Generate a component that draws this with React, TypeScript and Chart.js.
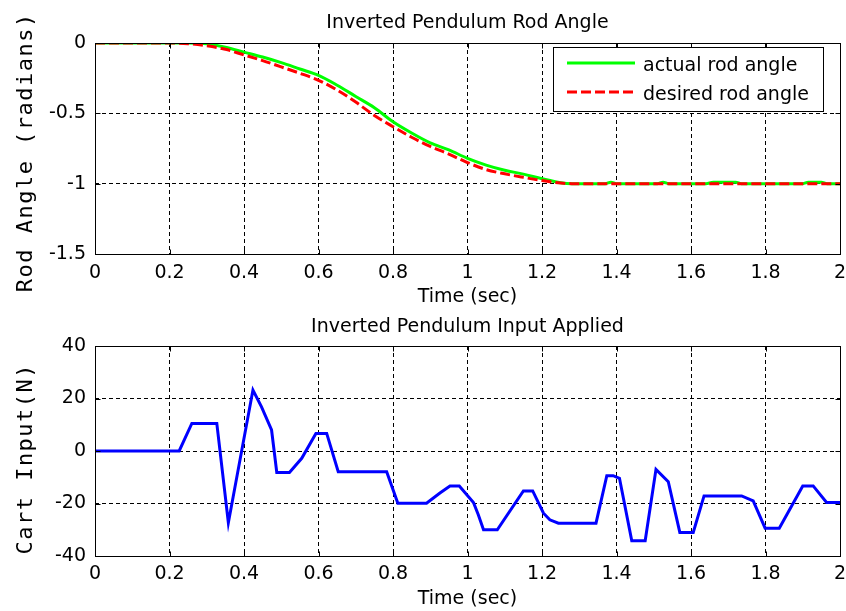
import React, { useEffect, useRef } from 'react';
import { Chart, registerables } from 'chart.js';

Chart.register(...registerables);

const FONT = '"DejaVu Sans", "Liberation Sans", sans-serif';
const MONO = '"DejaVu Sans Mono", monospace';

// ---- tick values / labels ----
const timeTicks = [0, 0.2, 0.4, 0.6, 0.8, 1, 1.2, 1.4, 1.6, 1.8, 2];
const timeTickLabels = ['0', '0.2', '0.4', '0.6', '0.8', '1', '1.2', '1.4', '1.6', '1.8', '2'];
const angleTicks = [-1.5, -1, -0.5, 0];
const angleTickLabels = ['-1.5', '-1', '-0.5', '0'];
const inputTicks = [-40, -20, 0, 20, 40];
const inputTickLabels = ['-40', '-20', '0', '20', '40'];

// ---- top plot: rod angle ----
const angleTime = [
  0, 0.1, 0.2, 0.25, 0.3, 0.35, 0.4, 0.45, 0.5, 0.55,
  0.6, 0.65, 0.7, 0.75, 0.8, 0.85, 0.9, 0.95, 1.0, 1.05,
  1.1, 1.15, 1.2, 1.25, 1.28, 1.37, 1.385, 1.4, 1.51, 1.525,
  1.54, 1.64, 1.66, 1.72, 1.735, 1.9, 1.915, 1.95, 1.965, 2.0,
];
const actualAngle = [
  0, 0, 0, 0, -0.005, -0.03, -0.065, -0.1, -0.14, -0.185,
  -0.23, -0.3, -0.38, -0.46, -0.56, -0.64, -0.71, -0.76, -0.82, -0.868,
  -0.905, -0.932, -0.965, -0.993, -1.0, -1.0, -0.99, -1.0, -1.0, -0.99,
  -1.0, -1.0, -0.99, -0.99, -1.0, -1.0, -0.99, -0.99, -1.0, -1.0,
];
const desiredAngle = [
  0, 0, 0, -0.005, -0.02, -0.045, -0.085, -0.125, -0.17, -0.215,
  -0.265, -0.335, -0.42, -0.515, -0.595, -0.67, -0.735, -0.79, -0.85, -0.9,
  -0.93, -0.955, -0.978, -0.995, -1.0, -1.0, -1.0, -1.0, -1.0, -1.0,
  -1.0, -1.0, -1.0, -1.0, -1.0, -1.0, -1.0, -1.0, -1.0, -1.0,
];

// ---- bottom plot: cart input ----
const inputTime = [
  0, 0.226, 0.26, 0.327, 0.358, 0.424, 0.447, 0.474, 0.488, 0.522,
  0.555, 0.593, 0.622, 0.653, 0.783, 0.813, 0.89, 0.926, 0.953, 0.978,
  1.016, 1.029, 1.043, 1.08, 1.15, 1.175, 1.204, 1.221, 1.244, 1.345,
  1.374, 1.391, 1.408, 1.441, 1.477, 1.506, 1.539, 1.57, 1.606, 1.635,
  1.736, 1.767, 1.799, 1.837, 1.9, 1.928, 1.964, 2.0,
];
const cartInput = [
  0, 0, 10.5, 10.5, -27.3, 23.2, 16.8, 8, -8.2, -8.2,
  -2.8, 6.7, 6.7, -7.9, -7.9, -19.9, -19.9, -16, -13.3, -13.3,
  -19.6, -24.3, -30, -30, -15.2, -15.2, -23.7, -26.2, -27.5, -27.5,
  -9.4, -9.4, -10.4, -34.2, -34.2, -7, -11.7, -31, -31, -17.1,
  -17.1, -19, -29.4, -29.4, -13.3, -13.3, -19.6, -19.6,
];

const W = 846;
const TOP_H = 306;
const BOT_H = 305;

const zip = (xs: number[], ys: number[]) => xs.map((x, i) => ({ x, y: ys[i] }));

type FrameCfg = {
  title: string;
  titleBaseline: number;
  xTitle: string;
  xTitleBaseline: number;
  yTitle: string;
  yTitleX: number;
  yTitleY: number;
  xTicks: number[];
  yTicks: number[];
  legend?: boolean;
};

function framePlugin(cfg: FrameCfg) {
  return {
    id: 'matlabFrame',
    afterDraw(chart: any) {
      const { ctx, chartArea: a, scales } = chart;
      const L = Math.round(a.left) + 0.5;
      const T = Math.round(a.top) + 0.5;
      const R = Math.round(a.right) + 0.5;
      const B = Math.round(a.bottom) + 0.5;
      ctx.save();
      ctx.setLineDash([]);
      ctx.strokeStyle = '#000';
      ctx.lineWidth = 1;
      // inward tick marks
      ctx.beginPath();
      cfg.xTicks.forEach((v) => {
        const px = Math.round(scales.x.getPixelForValue(v)) + 0.5;
        ctx.moveTo(px, B);
        ctx.lineTo(px, B - 5);
        ctx.moveTo(px, T);
        ctx.lineTo(px, T + 5);
      });
      cfg.yTicks.forEach((v) => {
        const py = Math.round(scales.y.getPixelForValue(v)) + 0.5;
        ctx.moveTo(L, py);
        ctx.lineTo(L + 5, py);
        ctx.moveTo(R, py);
        ctx.lineTo(R - 5, py);
      });
      ctx.stroke();
      // box
      ctx.strokeRect(L, T, R - L, B - T);

      // texts
      ctx.fillStyle = '#000';
      ctx.font = `19px ${FONT}`;
      ctx.textAlign = 'center';
      ctx.textBaseline = 'alphabetic';
      const cx = (a.left + a.right) / 2;
      ctx.fillText(cfg.title, cx, cfg.titleBaseline);
      ctx.fillText(cfg.xTitle, cx, cfg.xTitleBaseline);

      ctx.save();
      ctx.translate(cfg.yTitleX, cfg.yTitleY);
      ctx.rotate(-Math.PI / 2);
      ctx.font = `22px ${MONO}`;
      try {
        (ctx as any).letterSpacing = '1.5px';
      } catch (e) {
        /* ignore */
      }
      ctx.fillText(cfg.yTitle, 0.75, 0);
      try {
        (ctx as any).letterSpacing = '0px';
      } catch (e) {
        /* ignore */
      }
      ctx.restore();

      if (cfg.legend) {
        const bx = 553.5, by = 47.5, bw = 270, bh = 64;
        ctx.fillStyle = '#fff';
        ctx.fillRect(bx, by, bw, bh);
        ctx.strokeStyle = '#000';
        ctx.lineWidth = 1;
        ctx.strokeRect(bx, by, bw, bh);
        const rows = [63, 92];
        const bases = [70.5, 99.5];
        chart.data.datasets.forEach((ds: any, i: number) => {
          ctx.save();
          ctx.strokeStyle = ds.borderColor;
          ctx.lineWidth = 3;
          ctx.setLineDash(ds.borderDash || []);
          ctx.beginPath();
          ctx.moveTo(567, rows[i]);
          ctx.lineTo(635, rows[i]);
          ctx.stroke();
          ctx.restore();
          ctx.fillStyle = '#000';
          ctx.font = `19px ${FONT}`;
          ctx.textAlign = 'left';
          ctx.fillText(ds.label, 643, bases[i]);
        });
      }
      ctx.restore();
    },
  };
}

function axisOptions(
  ticks: number[],
  labels: string[],
  min: number,
  max: number,
  fit: (s: any) => void,
  pad: number,
) {
  return {
    type: 'linear' as const,
    min,
    max,
    afterBuildTicks: (scale: any) => {
      scale.ticks = ticks.map((v) => ({ value: v }));
    },
    afterFit: (s: any) => {
      fit(s);
      // let the layout padding alone decide the plot area edges
      s.paddingLeft = 0;
      s.paddingRight = 0;
      s.paddingTop = 0;
      s.paddingBottom = 0;
    },
    ticks: {
      autoSkip: false,
      maxRotation: 0,
      padding: pad,
      color: '#000',
      font: { family: FONT, size: 19 },
      callback: (_v: any, i: number) => labels[i],
    },
    grid: {
      display: true,
      color: '#000',
      lineWidth: 1,
      drawTicks: false,
    },
    border: { display: false, dash: [4, 3] },
  };
}

function makeTopConfig(): any {
  return {
    type: 'line',
    data: {
      datasets: [
        {
          label: 'actual rod angle',
          data: zip(angleTime, actualAngle),
          borderColor: '#00ff00',
          borderWidth: 3,
          pointRadius: 0,
          cubicInterpolationMode: 'monotone',
          order: 1,
        },
        {
          label: 'desired rod angle',
          data: zip(angleTime, desiredAngle),
          borderColor: '#ff0000',
          borderWidth: 3,
          borderDash: [10, 4],
          pointRadius: 0,
          cubicInterpolationMode: 'monotone',
          order: 0,
        },
      ],
    },
    options: {
      responsive: false,
      animation: false,
      events: [],
      layout: { padding: { top: 43, right: 6, bottom: 0, left: 0 } },
      plugins: { legend: { display: false }, title: { display: false }, tooltip: { enabled: false } },
      scales: {
        x: axisOptions(timeTicks, timeTickLabels, 0, 2, (s: any) => { s.height = TOP_H - 254; }, 8),
        y: axisOptions(angleTicks, angleTickLabels, -1.5, 0, (s: any) => { s.width = 95; }, 9),
      },
    },
    plugins: [
      framePlugin({
        title: 'Inverted Pendulum Rod Angle',
        titleBaseline: 28,
        xTitle: 'Time (sec)',
        xTitleBaseline: 301.5,
        yTitle: 'Rod Angle (radians)',
        yTitleX: 32,
        yTitleY: 153,
        xTicks: timeTicks,
        yTicks: angleTicks,
        legend: true,
      }),
    ],
  };
}

function makeBottomConfig(): any {
  return {
    type: 'line',
    data: {
      datasets: [
        {
          label: 'cart input',
          data: zip(inputTime, cartInput),
          borderColor: '#0000ff',
          borderWidth: 3,
          pointRadius: 0,
          tension: 0,
        },
      ],
    },
    options: {
      responsive: false,
      animation: false,
      events: [],
      layout: { padding: { top: 40, right: 6, bottom: 0, left: 0 } },
      plugins: { legend: { display: false }, title: { display: false }, tooltip: { enabled: false } },
      scales: {
        x: axisOptions(timeTicks, timeTickLabels, 0, 2, (s: any) => { s.height = BOT_H - 250; }, 7),
        y: axisOptions(inputTicks, inputTickLabels, -40, 40, (s: any) => { s.width = 95; }, 9),
      },
    },
    plugins: [
      framePlugin({
        title: 'Inverted Pendulum Input Applied',
        titleBaseline: 26,
        xTitle: 'Time (sec)',
        xTitleBaseline: 298,
        yTitle: 'Cart Input(N)',
        yTitleX: 32,
        yTitleY: 153.5,
        xTicks: timeTicks,
        yTicks: inputTicks,
      }),
    ],
  };
}

function PlotCanvas({ height, make }: { height: number; make: () => any }) {
  const ref = useRef<HTMLCanvasElement | null>(null);
  useEffect(() => {
    if (!ref.current) return;
    const chart = new Chart(ref.current, make());
    return () => chart.destroy();
  }, [make]);
  return (
    <canvas
      ref={ref}
      width={W}
      height={height}
      style={{ display: 'block', width: W, height }}
    />
  );
}

export default function App() {
  return (
    <div
      style={{
        position: 'absolute',
        left: 0,
        top: 0,
        width: W,
        height: TOP_H + BOT_H,
        background: '#fff',
      }}
    >
      <PlotCanvas height={TOP_H} make={makeTopConfig} />
      <PlotCanvas height={BOT_H} make={makeBottomConfig} />
    </div>
  );
}
